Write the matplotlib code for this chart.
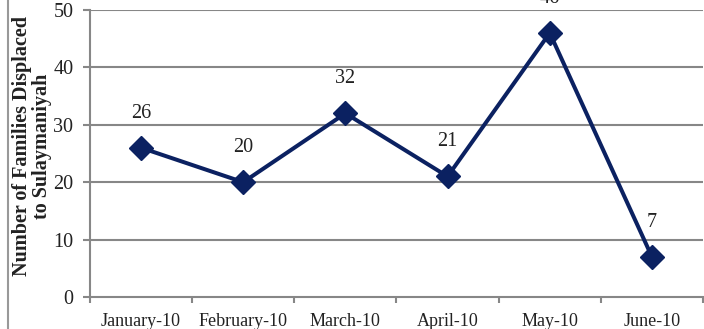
import matplotlib
matplotlib.use('Agg')
import matplotlib.pyplot as plt
from matplotlib.lines import Line2D

months = ['January-10', 'February-10', 'March-10', 'April-10', 'May-10', 'June-10']
families = [26, 20, 32, 21, 46, 7]
yticks = [0, 10, 20, 30, 40, 50]

plt.rcParams['font.family'] = ['Liberation Serif', 'DejaVu Serif']

fig = plt.figure(figsize=(7.04, 3.29), dpi=100)
ax = fig.add_axes([0.1278, 0.0973, 0.8708, 0.8723])

grid_col = '#878787'
navy = '#0B2161'

for y in yticks[1:]:
    ax.axhline(y, color=grid_col, lw=1.5, zorder=1)

x = list(range(len(months)))
ax.plot(x, families, color=navy, lw=2.9, marker='D', markersize=12, zorder=3)
for xi, v in zip(x, families):
    ax.annotate(str(v), (xi, v), xytext=(0, 18), textcoords='offset points',
                ha='center', va='bottom', fontsize=14.5, color='#222222', clip_on=False)

ax.set_xlim(-0.5, 5.5)
ax.set_ylim(0, 50)
ax.set_yticks(yticks)
ax.set_xticks([i + 0.5 for i in range(-1, 6)], minor=False)
ax.set_xticklabels([])
ax.set_xticks(x, minor=True)
ax.set_xticklabels(months, minor=True)
ax.tick_params(axis='x', which='major', length=4, color=grid_col, width=1.5, direction='out')
ax.tick_params(axis='x', which='minor', length=0, pad=11.5, labelsize=13, labelcolor='#222222')
ax.tick_params(axis='y', length=5, color=grid_col, width=1.5, pad=7, labelsize=14.5, labelcolor='#222222')

for s in ['top', 'right']:
    ax.spines[s].set_visible(False)
for s in ['left', 'bottom']:
    ax.spines[s].set_color(grid_col)
    ax.spines[s].set_linewidth(1.5)

fig.text(0.045, 0.556, 'Number of Families Displaced\nto Sulaymaniyah', rotation=90,
         ha='center', va='center', fontsize=14.5, fontweight='bold', color='#222222',
         linespacing=1.0)

fig.add_artist(Line2D([0.0107, 0.0107], [0, 1], transform=fig.transFigure,
                      color='#999999', lw=1.5))

fig.savefig('out.png', dpi=100)
